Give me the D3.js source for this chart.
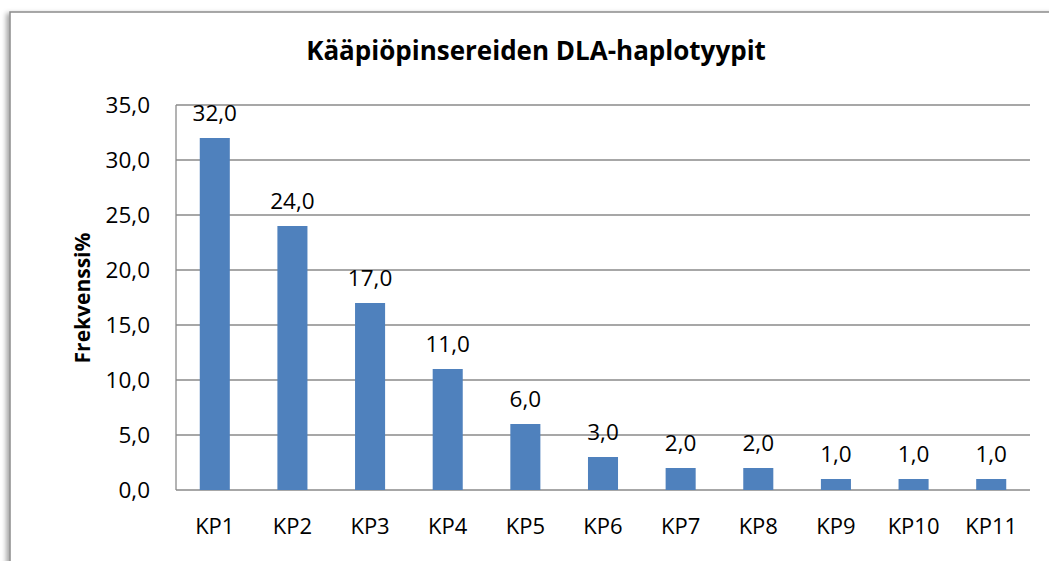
<!DOCTYPE html>
<html>
<head>
<meta charset="utf-8">
<script src="https://cdn.jsdelivr.net/npm/d3@7"></script>
<style>
  body { margin: 0; background: #fff; }
  svg { display: block; }
  text { font-family: "Open Sans", "Noto Sans", sans-serif; fill: #000; }
</style>
</head>
<body>
<svg width="1049" height="561"></svg>
<script>
var categories = ['KP1', 'KP2', 'KP3', 'KP4', 'KP5', 'KP6', 'KP7', 'KP8', 'KP9', 'KP10', 'KP11'],
    values = [32, 24, 17, 11, 6, 3, 2, 2, 1, 1, 1],
    yTicks = [0, 5, 10, 15, 20, 25, 30, 35];

var svg = d3.select('svg'),
    margin = { left: 176, top: 105, right: 19, bottom: 71 },
    width = 1049 - margin.left - margin.right,
    height = 561 - margin.top - margin.bottom,
    comma = function (v) { return d3.format('.1f')(v).replace('.', ','); };

// frame with a soft shadow on the left
var defs = svg.append('defs');
var filter = defs.append('filter').attr('id', 'shadow')
    .attr('x', '-5%').attr('y', '-5%').attr('width', '110%').attr('height', '110%');
filter.append('feDropShadow')
    .attr('dx', -3).attr('dy', 2).attr('stdDeviation', 2.5)
    .attr('flood-color', '#000').attr('flood-opacity', 0.35);

svg.append('rect')
    .attr('x', 10).attr('y', 12)
    .attr('width', 1100).attr('height', 600)
    .attr('fill', '#fff')
    .attr('stroke', '#8c8c8c')
    .attr('stroke-width', 1.5)
    .attr('filter', 'url(#shadow)');

var x = d3.scaleBand().domain(categories).range([0, width]).paddingInner(0.613).paddingOuter(0.306),
    y = d3.scaleLinear().domain([0, 35]).range([height, 0]);

var g = svg.append('g').attr('transform', 'translate(' + margin.left + ',' + margin.top + ')');

// gridlines
g.selectAll('.grid')
    .data(yTicks)
    .enter().append('line')
    .attr('x1', 0).attr('x2', width)
    .attr('y1', function (d) { return y(d); })
    .attr('y2', function (d) { return y(d); })
    .attr('stroke', '#8a8a8a')
    .attr('stroke-width', 1.3);

// y axis line
g.append('line')
    .attr('x1', 0).attr('x2', 0)
    .attr('y1', 0).attr('y2', height)
    .attr('stroke', '#8a8a8a')
    .attr('stroke-width', 1.3);

// y tick labels
g.selectAll('.ytick')
    .data(yTicks)
    .enter().append('text')
    .attr('x', -26)
    .attr('y', function (d) { return y(d); })
    .attr('dy', '0.36em')
    .attr('text-anchor', 'end')
    .style('font-size', '22.5px')
    .text(comma);

// bars
g.selectAll('.bar')
    .data(values)
    .enter().append('rect')
    .attr('x', function (d, i) { return x(categories[i]); })
    .attr('y', function (d) { return y(d); })
    .attr('width', x.bandwidth())
    .attr('height', function (d) { return height - y(d); })
    .attr('fill', '#4f81bd');

// data labels
g.selectAll('.label')
    .data(values)
    .enter().append('text')
    .attr('x', function (d, i) { return x(categories[i]) + x.bandwidth() / 2; })
    .attr('y', function (d) { return y(d) - 17; })
    .attr('text-anchor', 'middle')
    .style('font-size', '22.5px')
    .text(comma);

// x labels
g.selectAll('.xtick')
    .data(categories)
    .enter().append('text')
    .attr('x', function (d) { return x(d) + x.bandwidth() / 2; })
    .attr('y', height + 44)
    .attr('text-anchor', 'middle')
    .style('font-size', '22px')
    .text(function (d) { return d; });

// title
svg.append('text')
    .attr('x', 536).attr('y', 60)
    .attr('text-anchor', 'middle')
    .style('font-size', '26px')
    .style('font-weight', 'bold')
    .text('Kääpiöpinsereiden DLA-haplotyypit');

// y axis title
svg.append('text')
    .attr('transform', 'translate(90,298) rotate(-90)')
    .attr('text-anchor', 'middle')
    .style('font-size', '21px')
    .style('font-weight', 'bold')
    .text('Frekvenssi%');
</script>
</body>
</html>
